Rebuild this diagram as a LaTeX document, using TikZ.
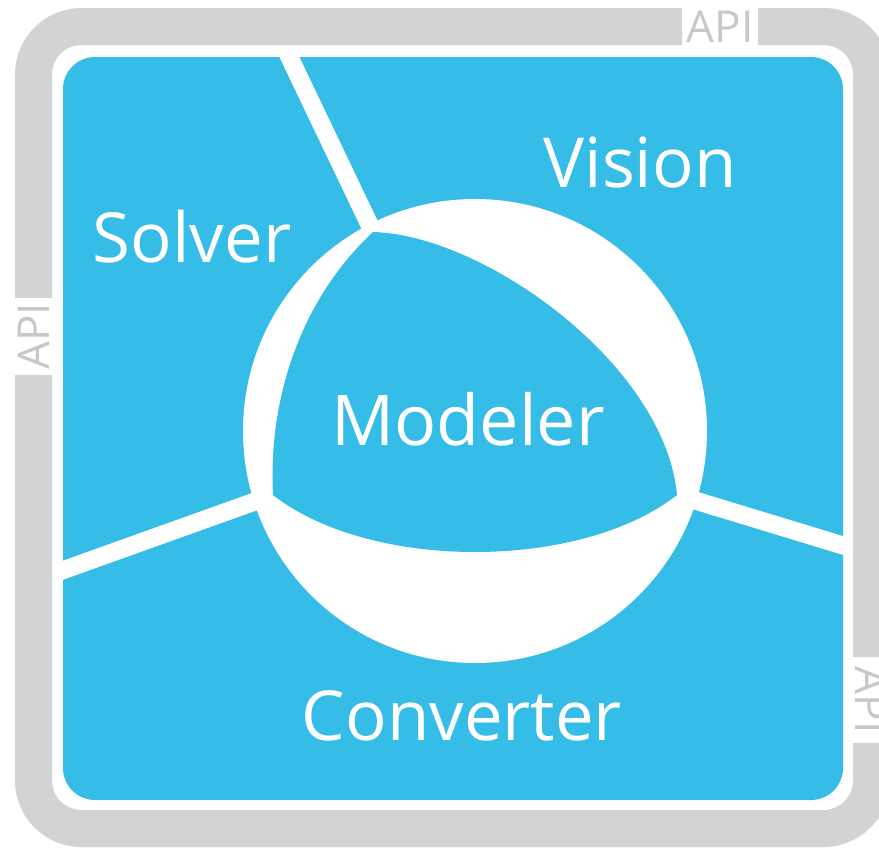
\documentclass[tikz,border=0pt]{standalone}
\usepackage{fontspec}
\setmainfont{Open Sans}
\definecolor{skyblue}{HTML}{36BDE7}
\definecolor{framegray}{HTML}{D1D3D4}
\definecolor{apigray}{HTML}{C6C8CA}

\begin{document}
\begin{tikzpicture}[x=1pt, y=-1pt]
      \tikzstyle{region} = [text=white, anchor=base, inner sep=0pt, font=\fontsize{69}{69}\selectfont]
      \tikzstyle{api} = [fill=white, text=apigray, inner sep=1pt, minimum height=39pt, font=\fontsize{44}{44}\selectfont]
      \tikzstyle{spoke} = [white, line width=18pt]
      \useasboundingbox (0,0) rectangle (879,849);
      % frame and panel
      \draw[framegray, line width=37pt, rounded corners=48pt] (33.5,26.5) rectangle (871.5,828.5);
      \node[api, minimum width=76pt] (apitop) at (720,26.5) {API};
      \node[api, minimum width=77pt, rotate=90] (apileft) at (33.5,336.5) {API};
      \node[api, minimum width=86pt, rotate=-90] (apiright) at (871.5,700) {API};
      \fill[skyblue, rounded corners=32pt] (63,57) rectangle (843,800);
      % corners of the modeler patch and ends of the spokes
      \coordinate (tl) at (373,232);
      \coordinate (bl) at (273,495);
      \coordinate (rt) at (677,495);
      \coordinate (topedge) at (287,52);
      \coordinate (leftedge) at (58,572);
      \coordinate (rightedge) at (848,547);
      \draw[spoke] (tl) -- (topedge);
      \draw[spoke] (bl) -- (leftedge);
      \draw[spoke] (rt) -- (rightedge);
      \node[circle, fill=white, minimum size=464pt, inner sep=0pt] (core) at (475,431) {};
      \fill[skyblue] (tl) .. controls (485,235) and (665,365) .. (rt)
        .. controls (580,571) and (370,571) .. (bl)
        .. controls (268,400) and (300,300) .. (tl) -- cycle;
      % texts
      \node[region] (vision) at (640,187) {Vision};
      \node[region] (solver) at (192,262) {Solver};
      \node[region, font=\fontsize{70}{70}\selectfont] (modeler) at (468,445) {Modeler};
      \node[region] (converter) at (462,740) {Converter};
    \end{tikzpicture}
\end{document}
